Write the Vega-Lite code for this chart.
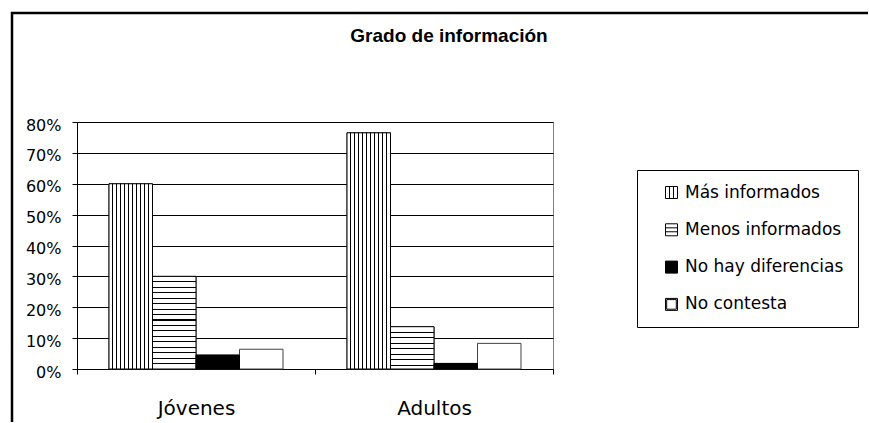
{
  "$schema": "https://vega.github.io/schema/vega-lite/v6.json",
  "width": 476,
  "height": 247,
  "autosize": {"type": "none"},
  "padding": {"left": 77, "top": 122, "right": 316, "bottom": 54},
  "background": "white",
  "title": {
    "text": "Grado de información",
    "font": "Liberation Sans",
    "fontSize": 19,
    "fontWeight": "bold",
    "color": "black",
    "anchor": "middle",
    "frame": "group",
    "baseline": "alphabetic",
    "dx": 134,
    "offset": -50
  },
  "config": {
    "font": "DejaVu Sans",
    "view": {"stroke": "#808080", "strokeWidth": 1},
    "legend": {
      "orient": "none",
      "legendX": 560,
      "legendY": 48,
      "padding": 14,
      "strokeColor": "black",
      "fillColor": "white",
      "cornerRadius": 0,
      "symbolSize": 144,
      "symbolStrokeWidth": 1,
      "symbolOpacity": 1,
      "symbolOffset": 12,
      "labelFont": "DejaVu Sans",
      "labelFontSize": 17,
      "labelColor": "black",
      "labelOffset": 5,
      "labelLimit": 400,
      "rowPadding": 19.3
    }
  },
  "data": {
    "values": [
      {"grupo": "Jóvenes", "serie": "Más informados", "valor": 0.60},
      {"grupo": "Jóvenes", "serie": "Menos informados", "valor": 0.30},
      {"grupo": "Jóvenes", "serie": "No hay diferencias", "valor": 0.045},
      {"grupo": "Jóvenes", "serie": "No contesta", "valor": 0.064},
      {"grupo": "Adultos", "serie": "Más informados", "valor": 0.765},
      {"grupo": "Adultos", "serie": "Menos informados", "valor": 0.137},
      {"grupo": "Adultos", "serie": "No hay diferencias", "valor": 0.018},
      {"grupo": "Adultos", "serie": "No contesta", "valor": 0.083}
    ]
  },
  "encoding": {
    "x": {
      "field": "grupo",
      "type": "nominal",
      "sort": ["Jóvenes", "Adultos"],
      "scale": {"paddingInner": 0, "paddingOuter": 0},
      "axis": {
        "title": null,
        "labelAngle": 0,
        "tickBand": "extent",
        "domainColor": "black",
        "tickColor": "black",
        "tickSize": 5,
        "labelFont": "DejaVu Sans",
        "labelFontSize": 20,
        "labelColor": "black",
        "labelPadding": 24,
        "grid": false
      }
    },
    "xOffset": {
      "field": "serie",
      "type": "nominal",
      "scale": {
        "domain": ["Más informados", "Menos informados", "No hay diferencias", "No contesta"],
        "paddingInner": 0,
        "paddingOuter": 0.736
      }
    },
    "y": {
      "field": "valor",
      "type": "quantitative",
      "scale": {"domain": [0, 0.8], "nice": false},
      "axis": {
        "title": null,
        "format": ".0%",
        "values": [0, 0.1, 0.2, 0.3, 0.4, 0.5, 0.6, 0.7, 0.8],
        "grid": true,
        "gridColor": "black",
        "gridOpacity": 1,
        "gridWidth": 1,
        "domainColor": "black",
        "tickColor": "black",
        "tickSize": 5,
        "labelFont": "DejaVu Sans",
        "labelFontSize": 16,
        "labelColor": "black",
        "labelPadding": 11,
        "labelOffset": 3
      }
    }
  },
  "layer": [
    {
      "data": {"values": [{"borde": "superior"}]},
      "mark": {"type": "rule", "stroke": "black", "strokeWidth": 2.5},
      "encoding": {
        "x": {"value": -66},
        "x2": {"value": 791},
        "y": {"value": -109},
        "xOffset": null
      }
    },
    {
      "data": {"values": [{"borde": "izquierdo"}]},
      "mark": {"type": "rule", "stroke": "black", "strokeWidth": 2.5},
      "encoding": {
        "x": {"value": -65},
        "y": {"value": -110},
        "y2": {"value": 300},
        "xOffset": null
      }
    },
    {
      "mark": {"type": "bar", "fill": "white", "stroke": "#404040", "strokeWidth": 1}
    },
    {
      "transform": [{"filter": "datum.serie === 'Más informados'"}],
      "mark": {
        "type": "bar",
        "stroke": "black",
        "strokeWidth": 1,
        "fill": {
          "gradient": "linear", "x1": 0, "y1": 0, "x2": 1, "y2": 0,
          "stops": [
            {"offset": 0, "color": "white"},
            {"offset": 0.0794, "color": "white"}, {"offset": 0.0794, "color": "black"}, {"offset": 0.1024, "color": "black"}, {"offset": 0.1024, "color": "white"},
            {"offset": 0.1703, "color": "white"}, {"offset": 0.1703, "color": "black"}, {"offset": 0.1933, "color": "black"}, {"offset": 0.1933, "color": "white"},
            {"offset": 0.2612, "color": "white"}, {"offset": 0.2612, "color": "black"}, {"offset": 0.2842, "color": "black"}, {"offset": 0.2842, "color": "white"},
            {"offset": 0.3521, "color": "white"}, {"offset": 0.3521, "color": "black"}, {"offset": 0.3751, "color": "black"}, {"offset": 0.3751, "color": "white"},
            {"offset": 0.4430, "color": "white"}, {"offset": 0.4430, "color": "black"}, {"offset": 0.4660, "color": "black"}, {"offset": 0.4660, "color": "white"},
            {"offset": 0.5340, "color": "white"}, {"offset": 0.5340, "color": "black"}, {"offset": 0.5570, "color": "black"}, {"offset": 0.5570, "color": "white"},
            {"offset": 0.6249, "color": "white"}, {"offset": 0.6249, "color": "black"}, {"offset": 0.6479, "color": "black"}, {"offset": 0.6479, "color": "white"},
            {"offset": 0.7158, "color": "white"}, {"offset": 0.7158, "color": "black"}, {"offset": 0.7388, "color": "black"}, {"offset": 0.7388, "color": "white"},
            {"offset": 0.8067, "color": "white"}, {"offset": 0.8067, "color": "black"}, {"offset": 0.8297, "color": "black"}, {"offset": 0.8297, "color": "white"},
            {"offset": 0.8976, "color": "white"}, {"offset": 0.8976, "color": "black"}, {"offset": 0.9206, "color": "black"}, {"offset": 0.9206, "color": "white"},
            {"offset": 1, "color": "white"}
          ]
        }
      }
    },
    {
      "transform": [{"filter": "datum.serie === 'Menos informados' && datum.grupo === 'Jóvenes'"}],
      "mark": {
        "type": "bar",
        "stroke": "black",
        "strokeWidth": 1,
        "fill": {
          "gradient": "linear", "x1": 0, "y1": 0, "x2": 0, "y2": 1,
          "stops": [
            {"offset": 0, "color": "white"},
            {"offset": 0.0528, "color": "white"}, {"offset": 0.0528, "color": "black"}, {"offset": 0.0648, "color": "black"}, {"offset": 0.0648, "color": "white"},
            {"offset": 0.1116, "color": "white"}, {"offset": 0.1116, "color": "black"}, {"offset": 0.1236, "color": "black"}, {"offset": 0.1236, "color": "white"},
            {"offset": 0.1705, "color": "white"}, {"offset": 0.1705, "color": "black"}, {"offset": 0.1825, "color": "black"}, {"offset": 0.1825, "color": "white"},
            {"offset": 0.2293, "color": "white"}, {"offset": 0.2293, "color": "black"}, {"offset": 0.2413, "color": "black"}, {"offset": 0.2413, "color": "white"},
            {"offset": 0.2881, "color": "white"}, {"offset": 0.2881, "color": "black"}, {"offset": 0.3001, "color": "black"}, {"offset": 0.3001, "color": "white"},
            {"offset": 0.3469, "color": "white"}, {"offset": 0.3469, "color": "black"}, {"offset": 0.3589, "color": "black"}, {"offset": 0.3589, "color": "white"},
            {"offset": 0.4058, "color": "white"}, {"offset": 0.4058, "color": "black"}, {"offset": 0.4178, "color": "black"}, {"offset": 0.4178, "color": "white"},
            {"offset": 0.4646, "color": "white"}, {"offset": 0.4646, "color": "black"}, {"offset": 0.4766, "color": "black"}, {"offset": 0.4766, "color": "white"},
            {"offset": 0.5234, "color": "white"}, {"offset": 0.5234, "color": "black"}, {"offset": 0.5354, "color": "black"}, {"offset": 0.5354, "color": "white"},
            {"offset": 0.5822, "color": "white"}, {"offset": 0.5822, "color": "black"}, {"offset": 0.5942, "color": "black"}, {"offset": 0.5942, "color": "white"},
            {"offset": 0.6411, "color": "white"}, {"offset": 0.6411, "color": "black"}, {"offset": 0.6531, "color": "black"}, {"offset": 0.6531, "color": "white"},
            {"offset": 0.6999, "color": "white"}, {"offset": 0.6999, "color": "black"}, {"offset": 0.7119, "color": "black"}, {"offset": 0.7119, "color": "white"},
            {"offset": 0.7587, "color": "white"}, {"offset": 0.7587, "color": "black"}, {"offset": 0.7707, "color": "black"}, {"offset": 0.7707, "color": "white"},
            {"offset": 0.8175, "color": "white"}, {"offset": 0.8175, "color": "black"}, {"offset": 0.8295, "color": "black"}, {"offset": 0.8295, "color": "white"},
            {"offset": 0.8764, "color": "white"}, {"offset": 0.8764, "color": "black"}, {"offset": 0.8884, "color": "black"}, {"offset": 0.8884, "color": "white"},
            {"offset": 0.9352, "color": "white"}, {"offset": 0.9352, "color": "black"}, {"offset": 0.9472, "color": "black"}, {"offset": 0.9472, "color": "white"},
            {"offset": 1, "color": "white"}
          ]
        }
      }
    },
    {
      "transform": [{"filter": "datum.serie === 'Menos informados' && datum.grupo === 'Adultos'"}],
      "mark": {
        "type": "bar",
        "stroke": "black",
        "strokeWidth": 1,
        "fill": {
          "gradient": "linear", "x1": 0, "y1": 0, "x2": 0, "y2": 1,
          "stops": [
            {"offset": 0, "color": "white"},
            {"offset": 0.117, "color": "white"}, {"offset": 0.117, "color": "black"}, {"offset": 0.143, "color": "black"}, {"offset": 0.143, "color": "white"},
            {"offset": 0.247, "color": "white"}, {"offset": 0.247, "color": "black"}, {"offset": 0.273, "color": "black"}, {"offset": 0.273, "color": "white"},
            {"offset": 0.377, "color": "white"}, {"offset": 0.377, "color": "black"}, {"offset": 0.403, "color": "black"}, {"offset": 0.403, "color": "white"},
            {"offset": 0.507, "color": "white"}, {"offset": 0.507, "color": "black"}, {"offset": 0.533, "color": "black"}, {"offset": 0.533, "color": "white"},
            {"offset": 0.637, "color": "white"}, {"offset": 0.637, "color": "black"}, {"offset": 0.663, "color": "black"}, {"offset": 0.663, "color": "white"},
            {"offset": 0.767, "color": "white"}, {"offset": 0.767, "color": "black"}, {"offset": 0.793, "color": "black"}, {"offset": 0.793, "color": "white"},
            {"offset": 0.897, "color": "white"}, {"offset": 0.897, "color": "black"}, {"offset": 0.923, "color": "black"}, {"offset": 0.923, "color": "white"},
            {"offset": 1, "color": "white"}
          ]
        }
      }
    },
    {
      "transform": [{"filter": "datum.serie === 'No hay diferencias'"}],
      "mark": {"type": "bar", "fill": "black", "stroke": "black", "strokeWidth": 1}
    },
    {
      "mark": {"type": "point", "filled": true, "opacity": 0, "strokeWidth": 1, "size": 144},
      "encoding": {
        "fill": {
          "field": "serie",
          "type": "nominal",
          "scale": {
            "domain": ["Más informados", "Menos informados", "No hay diferencias", "No contesta"],
            "range": ["white", "white", "black", "white"]
          },
          "legend": {"title": null}
        },
        "stroke": {
          "field": "serie",
          "type": "nominal",
          "scale": {
            "domain": ["Más informados", "Menos informados", "No hay diferencias", "No contesta"],
            "range": ["black", "black", "black", "black"]
          },
          "legend": {"title": null}
        },
        "shape": {
          "field": "serie",
          "type": "nominal",
          "scale": {
            "domain": ["Más informados", "Menos informados", "No hay diferencias", "No contesta"],
            "range": [
              "M-1,-1H1V1H-1Z M-0.33,-1V1 M0.33,-1V1",
              "M-1,-1H1V1H-1Z M-1,-0.33H1 M-1,0.33H1",
              "M-1,-1H1V1H-1Z",
              "M-1,-1H1V1H-1Z M-0.8,-0.8H0.8V0.8H-0.8Z"
            ]
          },
          "legend": {"title": null}
        }
      }
    }
  ]
}
